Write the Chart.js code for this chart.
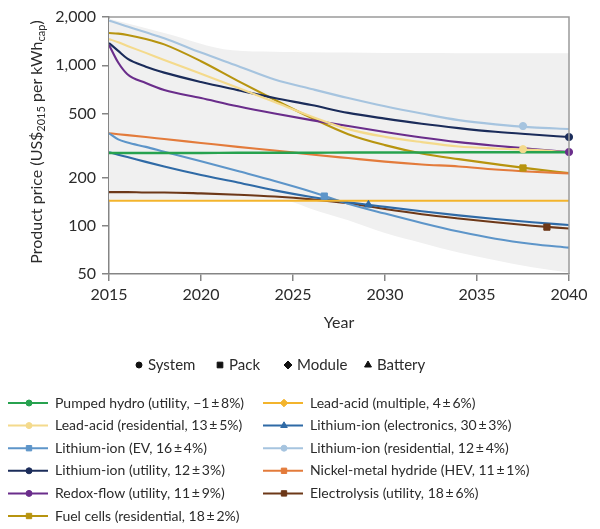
<!DOCTYPE html>
<html>
<head>
<meta charset="utf-8">
<script src="https://cdn.jsdelivr.net/npm/chart.js@4.4.1/dist/chart.umd.min.js"></script>
<style>
  html, body { margin: 0; padding: 0; background: #fff; }
  canvas { display: block; }
</style>
</head>
<body>
<canvas id="priceChart" width="600" height="529"></canvas>
<script>
// years sampled along the curves
const years = [2015, 2015.5, 2016, 2017, 2018, 2020, 2022, 2024, 2026, 2028, 2030, 2032, 2034, 2036, 2038, 2040];

const pumpedHydro   = [284, 284, 284, 284, 284, 284, 285, 285, 285, 286, 286, 286, 287, 287, 287, 287];
const leadAcidMulti = [143, 143, 143, 143, 143, 143, 143, 143, 143, 143, 143, 143, 143, 143, 143, 143];
const leadAcidRes   = [1458, 1390, 1320, 1195, 1080, 885, 725, 590, 480, 400, 358, 332, 312, 303, 297, 287];
const liIonElec     = [287, 277, 268, 250, 234, 207, 186, 166, 151, 140, 131, 123, 116, 110, 105, 101];
const liIonEV       = [377, 345, 330, 310, 289, 252, 219, 190, 163, 137, 119, 104, 92, 83, 77, 73];
const liIonRes      = [1900, 1820, 1745, 1605, 1475, 1200, 990, 815, 712, 625, 555, 500, 455, 428, 410, 401];
const liIonUtil     = [1378, 1230, 1100, 980, 900, 787, 700, 625, 565, 505, 465, 432, 406, 385, 370, 357];
const nimh          = [377, 372, 367, 357, 347, 328, 310, 294, 278, 264, 251, 241, 234, 224, 217, 212];
const redoxFlow     = [1339, 1040, 880, 776, 701, 625, 555, 500, 455, 418, 384, 355, 332, 315, 301, 288];
const electrolysis  = [162, 162, 162, 161, 161, 159, 156, 152, 146, 138, 127, 118, 111, 105, 100, 96];
const fuelCells     = [1589, 1575, 1545, 1460, 1350, 1060, 800, 610, 470, 372, 318, 282, 260, 242, 226, 213];

// grey uncertainty band
const bandYears = [2015, 2018, 2021.7, 2024, 2025, 2026, 2028, 2030, 2032, 2034, 2036, 2038, 2040];
const bandHigh  = [1950, 1590, 1240, 1215, 1210, 1205, 1200, 1195, 1192, 1190, 1190, 1188, 1188];
const bandLow   = [145, 145, 145, 145, 140, 127, 108, 90, 78, 68, 61, 55, 51];

// marked points on the curves
const markerSeries = ['leadAcidRes', 'liIonElec', 'liIonEV', 'liIonRes', 'liIonUtil', 'redoxFlow', 'electrolysis', 'fuelCells'];
const markerYear   = [2037.5, 2029.1, 2026.7, 2037.5, 2040, 2040, 2038.8, 2037.5];
const markerValue  = [300, 135, 153, 418, 357, 288, 98, 229];

const yTicks = [50, 100, 200, 500, 1000, 2000];

const series = [
  { key: 'pumpedHydro',   values: pumpedHydro,   label: 'Pumped hydro (utility, \u22121\u2009\u00b1\u20098%)',        color: '#27a24f', marker: 'circle' },
  { key: 'leadAcidMulti', values: leadAcidMulti, label: 'Lead-acid (multiple, 4\u2009\u00b1\u20096%)',               color: '#f3b42c', marker: 'rectRot' },
  { key: 'leadAcidRes',   values: leadAcidRes,   label: 'Lead-acid (residential, 13\u2009\u00b1\u20095%)',           color: '#f4da8c', marker: 'circle' },
  { key: 'liIonElec',     values: liIonElec,     label: 'Lithium-ion (electronics, 30\u2009\u00b1\u20093%)',         color: '#2f6aa6', marker: 'triangle' },
  { key: 'liIonEV',       values: liIonEV,       label: 'Lithium-ion (EV, 16\u2009\u00b1\u20094%)',                  color: '#5d95c9', marker: 'rect' },
  { key: 'liIonRes',      values: liIonRes,      label: 'Lithium-ion (residential, 12\u2009\u00b1\u20094%)',         color: '#a6c4df', marker: 'circle' },
  { key: 'liIonUtil',     values: liIonUtil,     label: 'Lithium-ion (utility, 12\u2009\u00b1\u20093%)',             color: '#1b2c5a', marker: 'circle' },
  { key: 'nimh',          values: nimh,          label: 'Nickel-metal hydride (HEV, 11\u2009\u00b1\u20091%)',        color: '#e37b3b', marker: 'rect' },
  { key: 'redoxFlow',     values: redoxFlow,     label: 'Redox-flow (utility, 11\u2009\u00b1\u20099%)',              color: '#6a2d8b', marker: 'circle' },
  { key: 'electrolysis',  values: electrolysis,  label: 'Electrolysis (utility, 18\u2009\u00b1\u20096%)',            color: '#6d3818', marker: 'rect' },
  { key: 'fuelCells',     values: fuelCells,     label: 'Fuel cells (residential, 18\u2009\u00b1\u20092%)',          color: '#b7940f', marker: 'rect' }
];

const FONT = 'Lato, "Open Sans", sans-serif';
const TEXT = '#2b2b2b';
const AXIS = '#858585';

function pts(xs, ys) { return xs.map((x, i) => ({ x: x, y: ys[i] })); }

const datasets = [];

// markers first so they sit on top of the lines
markerSeries.forEach((k, i) => {
  const s = series.find(d => d.key === k);
  datasets.push({
    type: 'scatter',
    data: [{ x: markerYear[i], y: markerValue[i] }],
    pointStyle: s.marker,
    pointRadius: s.marker === 'circle' ? 3.6 : 4.4,
    backgroundColor: s.color,
    borderColor: s.color,
    borderWidth: 1,
    clip: false
  });
});

series.forEach(s => {
  datasets.push({
    type: 'line',
    data: pts(years, s.values),
    borderColor: s.color,
    borderWidth: s.key === 'pumpedHydro' ? 2.4 : 2.1,
    pointRadius: 0,
    fill: false,
    cubicInterpolationMode: 'monotone'
  });
});

datasets.push({
  type: 'line',
  data: pts(bandYears, bandHigh),
  borderWidth: 0,
  borderColor: 'rgba(0,0,0,0)',
  backgroundColor: '#f0f0f0',
  pointRadius: 0,
  fill: '+1',
  cubicInterpolationMode: 'monotone'
});
datasets.push({
  type: 'line',
  data: pts(bandYears, bandLow),
  borderWidth: 0,
  borderColor: 'rgba(0,0,0,0)',
  pointRadius: 0,
  fill: false,
  cubicInterpolationMode: 'monotone'
});

// box round the plot
const framePlugin = {
  id: 'frame',
  afterDatasetsDraw(chart) {
    const a = chart.chartArea, ctx = chart.ctx;
    ctx.save();
    ctx.strokeStyle = '#9a9a9a';
    ctx.lineWidth = 1.5;
    ctx.beginPath();
    ctx.moveTo(a.left, a.top);
    ctx.lineTo(a.right, a.top);
    ctx.lineTo(a.right, a.bottom);
    ctx.stroke();
    ctx.restore();
  }
};

// rotated y title with subscripts
const yTitlePlugin = {
  id: 'yTitle',
  afterDraw(chart) {
    const ctx = chart.ctx;
    const main = '16px ' + FONT, sub = '11px ' + FONT;
    const parts = [
      ['Product price (US$', main, 0], ['2015', sub, 3], [' per kWh', main, 0], ['cap', sub, 3], [')', main, 0]
    ];
    ctx.save();
    ctx.translate(42, 142);
    ctx.rotate(-Math.PI / 2);
    ctx.fillStyle = TEXT;
    ctx.textBaseline = 'alphabetic';
    let w = 0;
    parts.forEach(p => { ctx.font = p[1]; w += ctx.measureText(p[0]).width; });
    let x = -w / 2;
    parts.forEach(p => {
      ctx.font = p[1];
      ctx.fillText(p[0], x, p[2]);
      x += ctx.measureText(p[0]).width;
    });
    ctx.restore();
  }
};

// key of marker meanings and the two-column legend
const legendPlugin = {
  id: 'gridLegend',
  afterDraw(chart) {
    const ctx = chart.ctx;
    const draw = Chart.helpers.drawPoint;
    ctx.save();
    ctx.font = '15px ' + FONT;
    ctx.textBaseline = 'middle';

    const key = [['circle', 'System', 139], ['rect', 'Pack', 220], ['rectRot', 'Module', 288], ['triangle', 'Battery', 368]];
    key.forEach(k => {
      ctx.fillStyle = '#111';
      ctx.strokeStyle = '#111';
      ctx.lineWidth = 1;
      draw(ctx, { pointStyle: k[0], radius: k[0] === 'circle' ? 3 : 4, rotation: 0, borderWidth: 1 }, k[2], 365);
      ctx.fillStyle = TEXT;
      ctx.fillText(k[1], k[2] + 9, 365);
    });

    ctx.font = '14px ' + FONT;
    series.forEach((s, i) => {
      const col = i % 2, row = Math.floor(i / 2);
      const x0 = col ? 263 : 8;
      const y = 403 + row * 22.6;
      ctx.strokeStyle = s.color;
      ctx.fillStyle = s.color;
      ctx.lineWidth = 2;
      ctx.beginPath();
      ctx.moveTo(x0, y);
      ctx.lineTo(x0 + 40, y);
      ctx.stroke();
      ctx.lineWidth = 1;
      draw(ctx, { pointStyle: s.marker, radius: s.marker === 'circle' ? 3 : 3.8, rotation: 0, borderWidth: 1 }, x0 + 21, y);
      ctx.fillStyle = TEXT;
      ctx.fillText(s.label, x0 + 47, y);
    });
    ctx.restore();
  }
};

new Chart(document.getElementById('priceChart').getContext('2d'), {
  type: 'line',
  data: { datasets: datasets },
  options: {
    responsive: false,
    animation: false,
    events: [],
    layout: { padding: { top: 17, right: 31, bottom: 197, left: 0 } },
    plugins: {
      legend: { display: false },
      tooltip: { enabled: false },
      filler: { drawTime: 'beforeDatasetsDraw' }
    },
    scales: {
      x: {
        type: 'linear',
        min: 2015,
        max: 2040,
        afterFit: s => { s.height = 58; },
        ticks: { stepSize: 5, padding: 4, color: TEXT, font: { family: FONT, size: 16 }, callback: v => String(v) },
        grid: { drawOnChartArea: false, tickLength: 7, color: AXIS, lineWidth: 1.5 },
        border: { color: AXIS, width: 1.5 },
        title: { display: true, text: 'Year', color: TEXT, font: { family: FONT, size: 16 }, padding: { top: 4, bottom: 0 } }
      },
      y: {
        type: 'logarithmic',
        min: 50,
        max: 2000,
        afterFit: s => { s.width = 109; },
        afterBuildTicks: s => { s.ticks = yTicks.map(v => ({ value: v })); },
        ticks: { padding: 6, color: TEXT, font: { family: FONT, size: 16 }, callback: v => v.toLocaleString('en-US') },
        grid: { drawOnChartArea: false, tickLength: 7, color: AXIS, lineWidth: 1.5 },
        border: { color: AXIS, width: 1.5 }
      }
    }
  },
  plugins: [framePlugin, yTitlePlugin, legendPlugin]
});
</script>
</body>
</html>
